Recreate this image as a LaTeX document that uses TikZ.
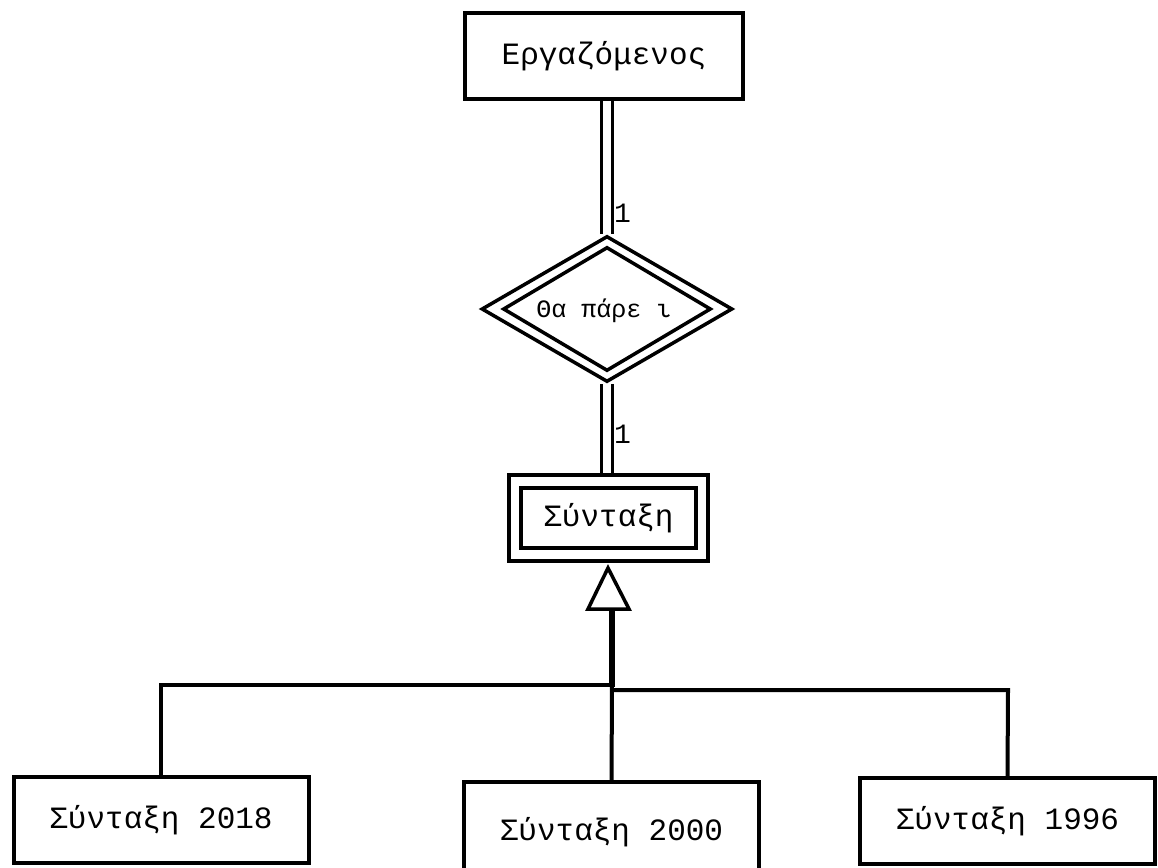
\documentclass[tikz,border=0pt]{standalone}
\usepackage{fontspec}
\setmainfont{Liberation Mono}
\usetikzlibrary{shapes.geometric}
\begin{document}
\begin{tikzpicture}[x=1pt,y=-1pt,
  ent/.style={draw, line width=4pt, inner sep=0pt, font=\fontsize{31}{34}\selectfont},
  dbl/.style={double, double distance=8pt, line width=3pt},
  ln/.style={line width=4pt},
  card/.style={font=\fontsize{28}{30}\selectfont, inner sep=0pt}]
\useasboundingbox (0,0) rectangle (1158,867);
\fill[white] (0,0) rectangle (1158,867);
\begin{scope}
\clip (0,0) rectangle (1158,867);
% entities
\node[ent, minimum width=278pt, minimum height=86pt] (emp) at (604,56) {Εργαζόμενος};
\node[draw, line width=4pt, minimum width=199pt, minimum height=86pt, inner sep=0pt] (synOut) at (608.5,518) {};
\node[ent, minimum width=175pt, minimum height=60pt] (syn) at (608.5,518) {Σύνταξη};
% relationship
\node[diamond, draw, line width=3.5pt, minimum width=251pt, minimum height=146pt, inner sep=0pt] (rel) at (607,309) {};
\node[diamond, draw, line width=3.5pt, minimum width=208pt, minimum height=124pt, inner sep=0pt] (relIn) at (607,309) {};
\node[inner sep=0pt, font=\fontsize{25}{27}\selectfont] (relT) at (604,311) {Θα πάρε ι};
% connectors with cardinalities
\draw[dbl] (emp.south -| rel.north) -- (rel.north);
\draw[dbl] (rel.south) -- (synOut.north -| rel.south);
\node[card, anchor=west] (c1) at (614,213) {1};
\node[card, anchor=west] (c2) at (614,434) {1};
% subclasses
\node[ent, minimum width=295pt, minimum height=86pt] (s2018) at (161,820) {Σύνταξη 2018};
\node[ent, minimum width=295pt, minimum height=100pt] (s2000) at (611.5,832) {Σύνταξη 2000};
\node[ent, minimum width=295pt, minimum height=86pt] (s1996) at (1007.5,821) {Σύνταξη 1996};
% ISA triangle
\coordinate (apex) at (608,568);
\coordinate (bl) at (588,609);
\coordinate (br) at (629,609);
\draw[line width=3.5pt, line join=miter] (apex) -- (bl) -- (br) -- cycle;
\coordinate (stemTop) at (612,610);
\coordinate (junc) at (612,687);
\draw[line width=6pt] (stemTop) -- (junc);
\coordinate (hl) at (161,685);
\coordinate (hr) at (1008,690);
\draw[ln] (junc |- hl) -- (hl) -- (s2018.north);
\draw[ln] (junc |- hr) -- (hr) -- (s1996.north);
\draw[ln] (612,685) -- (s2000.north);
\end{scope}
\end{tikzpicture}
\end{document}
